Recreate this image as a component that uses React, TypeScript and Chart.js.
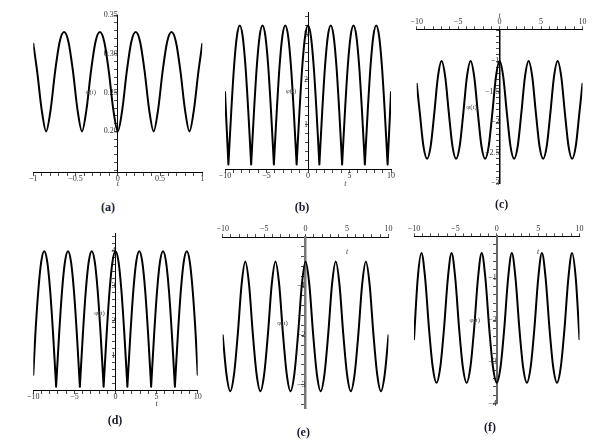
import React, { useEffect, useRef } from "react";
import { Chart, registerables } from "chart.js";
Chart.register(...registerables);

// ---------- data ----------
const tA = [-1, -0.954, -0.901, -0.848, -0.795, -0.742, -0.689, -0.636, -0.583, -0.53, -0.477, -0.424, -0.371, -0.318, -0.265, -0.212, -0.159, -0.106, -0.053, 0, 0.053, 0.106, 0.159, 0.212, 0.265, 0.318, 0.371, 0.424, 0.477, 0.53, 0.583, 0.636, 0.689, 0.742, 0.795, 0.848, 0.901, 0.954, 1];
const yA = [0.313, 0.277, 0.228, 0.2, 0.228, 0.277, 0.315, 0.328, 0.315, 0.277, 0.228, 0.2, 0.228, 0.277, 0.315, 0.328, 0.315, 0.277, 0.228, 0.2, 0.228, 0.277, 0.315, 0.328, 0.315, 0.277, 0.228, 0.2, 0.228, 0.277, 0.315, 0.328, 0.315, 0.277, 0.228, 0.2, 0.228, 0.277, 0.313];

const tB = [-10, -9.59, -9.59,
  -9.59, -9.2475, -8.905, -8.5625, -8.22, -7.8775, -7.535, -7.1925, -6.85, -6.85,
  -6.85, -6.5075, -6.165, -5.8225, -5.48, -5.1375, -4.795, -4.4525, -4.11, -4.11,
  -4.11, -3.7675, -3.425, -3.0825, -2.74, -2.3975, -2.055, -1.7125, -1.37, -1.37,
  -1.37, -1.0275, -0.685, -0.3425, 0, 0.3425, 0.685, 1.0275, 1.37, 1.37,
  1.37, 1.7125, 2.055, 2.3975, 2.74, 3.0825, 3.425, 3.7675, 4.11, 4.11,
  4.11, 4.4525, 4.795, 5.1375, 5.48, 5.8225, 6.165, 6.5075, 6.85, 6.85,
  6.85, 7.1925, 7.535, 7.8775, 8.22, 8.5625, 8.905, 9.2475, 9.59, 9.59,
  9.59, 10];
const yB = [1.72, 0.11, null,
  0.11, 1.29, 2.3, 2.97, 3.2, 2.97, 2.3, 1.29, 0.11, null,
  0.11, 1.29, 2.3, 2.97, 3.2, 2.97, 2.3, 1.29, 0.11, null,
  0.11, 1.29, 2.3, 2.97, 3.2, 2.97, 2.3, 1.29, 0.11, null,
  0.11, 1.29, 2.3, 2.97, 3.2, 2.97, 2.3, 1.29, 0.11, null,
  0.11, 1.29, 2.3, 2.97, 3.2, 2.97, 2.3, 1.29, 0.11, null,
  0.11, 1.29, 2.3, 2.97, 3.2, 2.97, 2.3, 1.29, 0.11, null,
  0.11, 1.29, 2.3, 2.97, 3.2, 2.97, 2.3, 1.29, 0.11, null,
  0.11, 1.72];

const tC = [-10, -9.625, -9.1875, -8.75, -8.3125, -7.875, -7.4375, -7, -6.5625, -6.125, -5.6875, -5.25, -4.8125, -4.375, -3.9375, -3.5, -3.0625, -2.625, -2.1875, -1.75, -1.3125, -0.875, -0.4375, 0,
  0.4375, 0.875, 1.3125, 1.75, 2.1875, 2.625, 3.0625, 3.5, 3.9375, 4.375, 4.8125, 5.25, 5.6875, 6.125, 6.5625, 7, 7.4375, 7.875, 8.3125, 8.75, 9.1875, 9.625, 10];
const yC = [-1.37, -1.848, -2.392, -2.6, -2.392, -1.848, -1.256, -1.0, -1.256, -1.848, -2.392, -2.6, -2.392, -1.848, -1.256, -1.0, -1.256, -1.848, -2.392, -2.6, -2.392, -1.848, -1.256, -1.0,
  -1.256, -1.848, -2.392, -2.6, -2.392, -1.848, -1.256, -1.0, -1.256, -1.848, -2.392, -2.6, -2.392, -1.848, -1.256, -1.0, -1.256, -1.848, -2.392, -2.6, -2.392, -1.848, -1.37];

const tD = [-10, -9.754, -9.3925, -9.031, -8.67, -8.309, -7.9475, -7.586, -7.225, -7.225,
  -7.225, -6.864, -6.5025, -6.141, -5.78, -5.419, -5.0575, -4.696, -4.335, -4.335,
  -4.335, -3.974, -3.6125, -3.251, -2.89, -2.529, -2.1675, -1.806, -1.445, -1.445,
  -1.445, -1.084, -0.7225, -0.361, 0, 0.361, 0.7225, 1.084, 1.445, 1.445,
  1.445, 1.806, 2.1675, 2.529, 2.89, 3.251, 3.6125, 3.974, 4.335, 4.335,
  4.335, 4.696, 5.0575, 5.419, 5.78, 6.141, 6.5025, 6.864, 7.225, 7.225,
  7.225, 7.586, 7.9475, 8.309, 8.67, 9.031, 9.3925, 9.754, 10];
const yD = [0.45, 1.59, 2.85, 3.69, 3.98, 3.69, 2.85, 1.59, 0.11, null,
  0.11, 1.59, 2.85, 3.69, 3.98, 3.69, 2.85, 1.59, 0.11, null,
  0.11, 1.59, 2.85, 3.69, 3.98, 3.69, 2.85, 1.59, 0.11, null,
  0.11, 1.59, 2.85, 3.69, 3.98, 3.69, 2.85, 1.59, 0.11, null,
  0.11, 1.59, 2.85, 3.69, 3.98, 3.69, 2.85, 1.59, 0.11, null,
  0.11, 1.59, 2.85, 3.69, 3.98, 3.69, 2.85, 1.59, 0.11, null,
  0.11, 1.59, 2.85, 3.69, 3.98, 3.69, 2.85, 1.59, 0.45];

const tE = [-10, -9.5445, -9.09, -8.6355, -8.181, -7.7265, -7.272, -6.8175, -6.363, -5.9085, -5.454, -4.9995, -4.545, -4.0905, -3.636, -3.1815, -2.727, -2.2725, -1.818, -1.3635, -0.909, -0.4545, 0,
  0.4545, 0.909, 1.3635, 1.818, 2.2725, 2.727, 3.1815, 3.636, 4.0905, 4.545, 4.9995, 5.454, 5.9085, 6.363, 6.8175, 7.272, 7.7265, 8.181, 8.6355, 9.09, 9.5445, 10];
const yE = [-2.0, -2.797, -3.14, -2.797, -1.978, -0.975, -0.5, -0.975, -1.978, -2.797, -3.14, -2.797, -1.978, -0.975, -0.5, -0.975, -1.978, -2.797, -3.14, -2.797, -1.978, -0.975, -0.5,
  -0.975, -1.978, -2.797, -3.14, -2.797, -1.978, -0.975, -0.5, -0.975, -1.978, -2.797, -3.14, -2.797, -1.978, -0.975, -0.5, -0.975, -1.978, -2.797, -3.14, -2.797, -2.0];

const tF = [-10, -9.555, -9.1, -8.645, -8.19, -7.735, -7.28, -6.825, -6.37, -5.915, -5.46, -5.005, -4.55, -4.095, -3.64, -3.185, -2.73, -2.275, -1.82, -1.365, -0.91, -0.455, 0,
  0.455, 0.91, 1.365, 1.82, 2.275, 2.73, 3.185, 3.64, 4.095, 4.55, 5.005, 5.46, 5.915, 6.37, 6.825, 7.28, 7.735, 8.19, 8.645, 9.1, 9.555, 10];
const yF = [-2.46, -1.02, -0.4, -1.02, -2.198, -3.128, -3.5, -3.128, -2.198, -1.02, -0.4, -1.02, -2.198, -3.128, -3.5, -3.128, -2.198, -1.02, -0.4, -1.02, -2.198, -3.128, -3.5,
  -3.128, -2.198, -1.02, -0.4, -1.02, -2.198, -3.128, -3.5, -3.128, -2.198, -1.02, -0.4, -1.02, -2.198, -3.128, -3.5, -3.128, -2.198, -1.02, -0.4, -1.02, -2.46];

const captions = ["(a)", "(b)", "(c)", "(d)", "(e)", "(f)"];
const axisTitle = "t";
const curveTitle = "\u03c6(t)";

// ---------- panel layout ----------
type Panel = {
  t: number[]; y: (number | null)[];
  xMin: number; xMax: number; xMajor: number; xMinor: number;
  yMin: number; yMax: number; yMajor: number; yMinor: number;
  yLabLo: number; yLabHi: number; yDec?: number;
  xTop: boolean;
  area: { l: number; r: number; t: number; b: number };
  tAt: number; tDy: number; phiAt: number; phiDx: number;
  cap: [number, number];
  yAxisColor: string; yAxisWidth: number;
};

const panels: Panel[] = [
  { t: tA, y: yA, xMin: -1, xMax: 1, xMajor: 0.5, xMinor: 0.1, yMin: 0.147, yMax: 0.35, yMajor: 0.05, yMinor: 0.01, yLabLo: 0.2, yLabHi: 0.35, yDec: 2,
    xTop: false, area: { l: 33.3, r: 202.3, t: 15, b: 172.5 }, tAt: 0, tDy: 11, phiAt: 0.25, phiDx: -27, cap: [108, 207], yAxisColor: "#000", yAxisWidth: 1 },
  { t: tB, y: yB, xMin: -10, xMax: 10, xMajor: 5, xMinor: 1, yMin: 0, yMax: 3.48, yMajor: 1, yMinor: 0.2, yLabLo: 1, yLabHi: 3,
    xTop: false, area: { l: 225, r: 391, t: 12.9, b: 169.5 }, tAt: 4.5, tDy: 14, phiAt: 1.73, phiDx: -17, cap: [302, 207], yAxisColor: "#000", yAxisWidth: 1 },
  { t: tC, y: yC, xMin: -10, xMax: 10, xMajor: 5, xMinor: 1, yMin: -3, yMax: -0.48, yMajor: 0.5, yMinor: 0.1, yLabLo: -3, yLabHi: -1,
    xTop: true, area: { l: 416.7, r: 582.5, t: 29.3, b: 183.3 }, tAt: 0, tDy: -13.6, phiAt: -1.75, phiDx: -28, cap: [501.7, 204], yAxisColor: "#000", yAxisWidth: 1.5 },
  { t: tD, y: yD, xMin: -10, xMax: 10, xMajor: 5, xMinor: 1, yMin: 0, yMax: 4.48, yMajor: 1, yMinor: 0.2, yLabLo: 1, yLabHi: 4,
    xTop: false, area: { l: 33.3, r: 197.7, t: 233.7, b: 390.5 }, tAt: 5, tDy: 13, phiAt: 2.2, phiDx: -16, cap: [115, 420], yAxisColor: "#000", yAxisWidth: 1 },
  { t: tE, y: yE, xMin: -10, xMax: 10, xMajor: 5, xMinor: 1, yMin: -3.48, yMax: 0, yMajor: 1, yMinor: 0.2, yLabLo: -3, yLabHi: -1,
    xTop: true, area: { l: 222.7, r: 388.5, t: 237, b: 408 }, tAt: 5, tDy: 14.7, phiAt: -1.76, phiDx: -23, cap: [303.3, 431.7], yAxisColor: "#777", yAxisWidth: 2.5 },
  { t: tF, y: yF, xMin: -10, xMax: 10, xMajor: 5, xMinor: 1, yMin: -4, yMax: 0, yMajor: 1, yMinor: 0.2, yLabLo: -4, yLabHi: -1,
    xTop: true, area: { l: 414, r: 579.5, t: 236.3, b: 403.7 }, tAt: 5, tDy: 15.4, phiAt: -2.0, phiDx: -22, cap: [490, 426.7], yAxisColor: "#666", yAxisWidth: 2 },
];

const TOP_AXIS_H = 13;
const tickFont = { family: "'Liberation Serif', serif", size: 8 };

const isMajor = (v: number, step: number) => Math.abs(v / step - Math.round(v / step)) < 1e-6;
const fmt = (v: number, dec?: number) => {
  const a = Math.abs(v);
  const s = dec != null ? a.toFixed(dec) : String(+a.toFixed(3));
  return (v < -1e-9 ? "\u2212" : "") + s;
};

const labelPlugin = {
  id: "panelLabels",
  afterDraw(chart: any, _args: any, opts: any) {
    const { ctx, scales } = chart;
    const xs = scales.x, ys = scales.y;
    ctx.save();
    ctx.fillStyle = "#444";
    ctx.textAlign = "center";
    ctx.textBaseline = "middle";
    ctx.font = "italic 8px 'Liberation Serif', serif";
    const axisY = ys.getPixelForValue(opts.xAxisAt);
    ctx.fillText(axisTitle, xs.getPixelForValue(opts.tAt), axisY + opts.tDy);
    ctx.font = "7px 'Liberation Serif', serif";
    ctx.fillText(curveTitle, xs.getPixelForValue(0) + opts.phiDx, ys.getPixelForValue(opts.phiAt));
    ctx.restore();
  },
};

function PanelChart({ p }: { p: Panel }) {
  const ref = useRef<HTMLCanvasElement>(null);
  const mL = 30, mR = 14, mT = p.xTop ? 20 + TOP_AXIS_H : 16, mB = 22;
  const cl = Math.floor(p.area.l - mL);
  const ct = Math.floor(p.area.t - mT);
  const cw = Math.ceil(p.area.r + mR) - cl;
  const ch = Math.ceil(p.area.b + mB) - ct;

  useEffect(() => {
    const data = p.t.map((x, i) => ({ x, y: p.y[i] }));
    const chart = new Chart(ref.current as HTMLCanvasElement, {
      type: "line",
      data: {
        datasets: [{
          data: data as any,
          borderColor: "#000",
          borderWidth: 2,
          pointRadius: 0,
          cubicInterpolationMode: "monotone",
          borderCapStyle: "round",
          borderJoinStyle: "round",
          spanGaps: false,
        }],
      },
      options: {
        animation: false,
        responsive: false,
        events: [],
        layout: {
          padding: {
            left: p.area.l - cl,
            right: cl + cw - p.area.r,
            top: p.area.t - ct - (p.xTop ? TOP_AXIS_H : 0),
            bottom: ct + ch - p.area.b,
          },
        },
        plugins: {
          legend: { display: false },
          tooltip: { enabled: false },
          panelLabels: { xAxisAt: p.xTop ? p.yMax : p.yMin, tAt: p.tAt, tDy: p.tDy, phiAt: p.phiAt, phiDx: p.phiDx },
        } as any,
        scales: {
          x: {
            type: "linear",
            min: p.xMin, max: p.xMax,
            position: p.xTop ? "top" : ({ y: p.yMin } as any),
            border: { display: true, color: "#000", width: 1 },
            grid: { display: true, drawOnChartArea: false, drawTicks: true, tickLength: 3, tickColor: "#000", tickWidth: 0.7 },
            ticks: {
              stepSize: p.xMinor, autoSkip: false, maxRotation: 0, minRotation: 0, includeBounds: false,
              padding: p.xTop ? 0 : -1, color: "#333", font: tickFont,
              callback: (v: any) => (isMajor(Number(v), p.xMajor) ? fmt(Number(v)) : ""),
            },
            afterFit: p.xTop ? (s: any) => { s.height = TOP_AXIS_H; } : undefined,
          } as any,
          y: {
            type: "linear",
            min: p.yMin, max: p.yMax,
            position: { x: 0 } as any,
            border: { display: true, color: p.yAxisColor, width: p.yAxisWidth },
            grid: { display: true, drawOnChartArea: false, drawTicks: true, tickLength: 3, tickColor: "#000", tickWidth: 0.7 },
            ticks: {
              stepSize: p.yMinor, autoSkip: false, includeBounds: false, padding: 1, color: "#333", font: tickFont,
              callback: (v: any) => {
                const n = Number(v);
                if (!isMajor(n, p.yMajor)) return "";
                if (n < p.yLabLo - 1e-9 || n > p.yLabHi + 1e-9) return "";
                return fmt(n, p.yDec);
              },
            },
          } as any,
        },
      },
      plugins: [labelPlugin as any],
    });
    return () => chart.destroy();
  }, []);

  return (
    <canvas
      ref={ref}
      width={cw}
      height={ch}
      style={{ position: "absolute", left: cl, top: ct, width: cw, height: ch }}
    />
  );
}

export default function App() {
  return (
    <div style={{ position: "absolute", left: 0, top: 0, width: 610, height: 448, background: "#fff", overflow: "hidden" }}>
      {panels.map((p, i) => (
        <PanelChart key={i} p={p} />
      ))}
      {panels.map((p, i) => (
        <div
          key={"c" + i}
          style={{
            position: "absolute",
            left: p.cap[0] - 20,
            top: p.cap[1] - 8,
            width: 40,
            textAlign: "center",
            font: "bold 12px 'Liberation Serif', serif",
            color: "#1b1b2e",
            lineHeight: "16px",
          }}
        >
          {captions[i]}
        </div>
      ))}
    </div>
  );
}
